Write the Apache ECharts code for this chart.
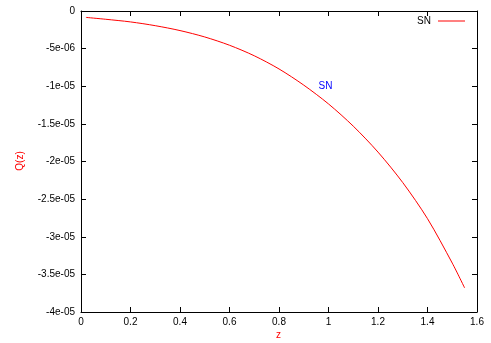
<!DOCTYPE html>
<html>
<head>
<meta charset="utf-8">
<script src="https://cdn.jsdelivr.net/npm/echarts@6/dist/echarts.min.js"></script>
<style>
  html, body { margin: 0; padding: 0; background: #fff; }
  #chart { width: 491px; height: 343px; }
</style>
</head>
<body>
<div id="chart"></div>
<script>
// curve values (Q in units of 1e-06)
var zValues = [0.02, 0.1, 0.2, 0.3, 0.4, 0.5, 0.6, 0.7, 0.8, 0.9, 1.0, 1.1, 1.2, 1.3, 1.4, 1.5, 1.55];
var qMicro = [-0.85, -1.1, -1.45, -1.95, -2.6, -3.45, -4.55, -5.95, -7.7, -9.85, -12.35, -15.3, -18.75, -22.8, -27.6, -33.5, -36.8];
var seriesName = 'SN';
var labelPos = [0.96, -1e-05]; // blue "SN" label

var chart = echarts.init(document.getElementById('chart'));
var font = 'Liberation Sans, Arial, sans-serif';

var pts = [];
for (var i = 0; i < zValues.length; i++) {
    pts.push([zValues[i], qMicro[i] * 1e-06]);
}

var fmtY = function(v) {
    if (Math.abs(v) < 1e-12) return '0';
    var s = Number(v.toPrecision(3)).toExponential();
    return s.replace(/e([+-])(\d)$/, 'e$10$2');
};

var axisBase = function(extra) {
    return Object.assign({
        type: 'value',
        axisLine: { show: true, onZero: false, lineStyle: { color: '#000', width: 1 } },
        axisTick: { show: true, inside: true, length: 5, lineStyle: { color: '#000' } },
        splitLine: { show: false }
    }, extra);
};

chart.setOption({
    animation: false,
    backgroundColor: '#fff',
    grid: { left: 81, right: 14, top: 11, bottom: 31 },
    legend: {
        data: [seriesName],
        right: 26,
        top: 16,
        padding: 0,
        align: 'right',
        icon: 'rect',
        itemWidth: 27,
        itemHeight: 1,
        itemStyle: { color: '#ff0000' },
        textStyle: { color: '#000', fontFamily: font, fontSize: 10, padding: [0, 2, 0, 0] }
    },
    xAxis: [
        axisBase({
            position: 'bottom', min: 0, max: 1.6, interval: 0.2,
            axisLabel: { color: '#000', fontFamily: font, fontSize: 10, margin: 5 }
        }),
        axisBase({
            position: 'top', min: 0, max: 1.6, interval: 0.2,
            axisLabel: { show: false }
        })
    ],
    yAxis: [
        axisBase({
            position: 'left', min: -4e-05, max: 0, interval: 5e-06,
            axisLabel: { color: '#000', fontFamily: font, fontSize: 10, margin: 6, formatter: fmtY }
        }),
        axisBase({
            position: 'right', min: -4e-05, max: 0, interval: 5e-06,
            axisLabel: { show: false }
        })
    ],
    series: [{
        name: seriesName,
        type: 'line',
        xAxisIndex: 0,
        yAxisIndex: 0,
        data: pts,
        smooth: 0.3,
        symbol: 'none',
        color: '#ff0000',
        lineStyle: { color: '#ff0000', width: 1 },
        markPoint: {
            symbol: 'circle',
            symbolSize: 0,
            data: [{ coord: labelPos }],
            label: {
                show: true, position: 'inside', align: 'left', verticalAlign: 'middle',
                formatter: 'SN', color: '#0000ff', fontFamily: font, fontSize: 10
            }
        }
    }],
    graphic: [{
        type: 'text', left: 276, top: 330,
        style: { text: 'z', fill: '#ff0000', font: '10px ' + font }
    }, {
        type: 'text', x: 20, y: 161, rotation: Math.PI / 2,
        style: { text: 'Q(z)', fill: '#ff0000', font: '10px ' + font, align: 'center', verticalAlign: 'middle' }
    }]
});
</script>
</body>
</html>
